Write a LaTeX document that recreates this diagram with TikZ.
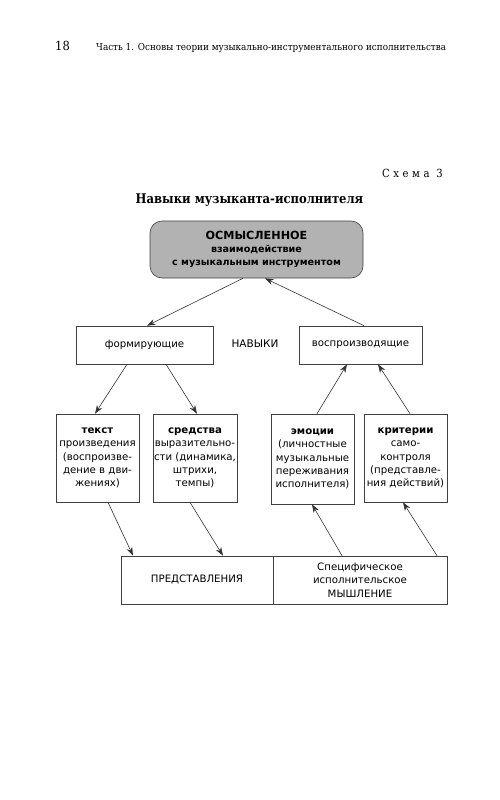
\documentclass[tikz,border=0pt]{standalone}
\usepackage{fontspec}
\setmainfont{DejaVu Sans}
\newfontfamily\hdr[FakeStretch=0.92]{DejaVu Serif}
\newfontfamily\ttl[FakeStretch=0.87]{DejaVu Serif}
\newfontfamily\hdrsp[FakeStretch=0.9,LetterSpace=32]{DejaVu Serif}
\usetikzlibrary{arrows.meta}
\begin{document}
\begin{tikzpicture}[x=1pt,y=-1pt,
  box/.style={draw=black!75,line width=0.6pt,inner sep=0pt,align=center,
    font=\fontsize{10.2}{13.3}\selectfont},
  arr/.style={draw=black!80,line width=0.6pt,-{Stealth[length=8.5pt,width=6pt]}},
  txt/.style={inner sep=0pt}]
\useasboundingbox (0,0) rectangle (500,800);
% header
\node[txt,anchor=base west] (pg) at (55,51) {\hdr\fontsize{12.5}{14}\selectfont 18};
\node[txt,anchor=base west] (hd) at (96,51) {\hdr\fontsize{9.6}{11}\selectfont Часть 1. Основы теории музыкально-инструментального исполнительства};
\node[txt,anchor=base east] (sh) at (443,177) {\hdrsp\fontsize{11.2}{12}\selectfont Схема 3};
\node[txt,anchor=base] (title) at (249.5,203) {\ttl\bfseries\fontsize{13.3}{15}\selectfont Навыки музыканта-исполнителя};
% top box
\node[box,fill=black!30,rounded corners=12pt,minimum width=213pt,minimum height=57pt] (top) at (256.5,249.5)
  {\fontsize{11.2}{14}\selectfont\bfseries ОСМЫСЛЕННОЕ\\[-0.5pt]
   \fontsize{9.6}{13}\selectfont\bfseries взаимодействие\\
   \fontsize{9.6}{13}\selectfont\bfseries с музыкальным инструментом};
% level 2
\node[box,minimum width=137pt,minimum height=38pt] (form) at (144.5,345) {формирующие};
\node[box,minimum width=123pt,minimum height=38pt] (vosp) at (360.5,345) {воспроизводящие};
\node[txt,font=\fontsize{10.5}{13.3}\selectfont] (nav) at (255,344) {НАВЫКИ};
% level 3
\node[box,minimum width=83pt,minimum height=88pt] (tekst) at (97.5,458)
  {\textbf{текст}\\произведения\\(воспроизве-\\дение в дви-\\жениях)};
\node[box,minimum width=84pt,minimum height=88pt] (sred) at (195,458)
  {\textbf{средства}\\выразительно-\\сти (динамика,\\штрихи,\\темпы)};
\node[box,minimum width=83pt,minimum height=90pt] (emo) at (312.5,459)
  {\textbf{эмоции}\\(личностные\\музыкальные\\переживания\\исполнителя)};
\node[box,minimum width=83pt,minimum height=88pt] (krit) at (405.5,458)
  {\textbf{критерии}\\само-\\контроля\\(представле-\\ния действий)};
% bottom
\node[box,minimum width=152pt,minimum height=48pt] (pred) at (197,580) {ПРЕДСТАВЛЕНИЯ};
\node[box,minimum width=174pt,minimum height=48pt] (mysh) at (360,580)
  {Специфическое\\исполнительское\\МЫШЛЕНИЕ};
% arrows
\draw[arr] ([xshift=-13.5pt]top.south) -- ([xshift=2.5pt]form.north);
\draw[arr] ([xshift=3.5pt]vosp.north) -- ([xshift=8.5pt]top.south);
\draw[arr] ([xshift=-17.5pt]form.south) -- ([xshift=-2.5pt]tekst.north);
\draw[arr] ([xshift=21.5pt]form.south) -- ([xshift=2pt]sred.north);
\draw[arr] ([xshift=4.5pt]emo.north) -- ([xshift=-13.5pt]vosp.south);
\draw[arr] ([xshift=4.5pt]krit.north) -- ([xshift=17.5pt]vosp.south);
\draw[arr] ([xshift=10.5pt]tekst.south) -- ([xshift=-64pt]pred.north);
\draw[arr] ([xshift=-5pt]sred.south) -- ([xshift=26pt]pred.north);
\draw[arr] ([xshift=-18pt]mysh.north) -- ([xshift=-0.5pt]emo.south);
\draw[arr] ([xshift=77pt]mysh.north) -- ([xshift=-2.5pt]krit.south);
\end{tikzpicture}
\end{document}
